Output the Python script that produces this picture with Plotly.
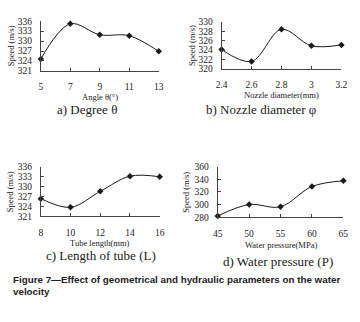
import plotly.graph_objects as go

# Data
angle_x = [5, 7, 9, 11, 13]
angle_y = [324.6, 335.2, 331.9, 331.6, 326.9]

nozzle_x = [2.4, 2.6, 2.8, 3.0, 3.2]
nozzle_y = [324.1, 321.6, 328.4, 324.9, 325.1]

tube_x = [8, 10, 12, 14, 16]
tube_y = [326.3, 323.7, 328.5, 333.1, 332.9]

press_x = [45, 50, 55, 60, 65]
press_y = [282, 300, 296.5, 328.5, 337.5]

W, H = 360, 322
def fx(px): return px / W
def fy(py): return 1 - py / H

SERIF = "Liberation Serif"
INK = "#1a1a1a"

panels = [
    dict(x=angle_x, y=angle_y, xd=(36, 158), yd=(16.7, 68), xr=[5, 13], yr=[321, 336],
         xt=angle_x, yt=[321, 324, 327, 330, 333, 336],
         xticktext=["5", "7", "9", "11", "13"],
         title="Angle θ(°)", title_y=95, cap="a) Degree θ", cap_x=84, cap_y=108, ylab_x=5.5),
    dict(x=nozzle_x, y=nozzle_y, xd=(223, 347), yd=(17.3, 66), xr=[2.4, 3.2], yr=[320, 330],
         xt=nozzle_x, yt=[320, 322, 324, 326, 328, 330],
         xticktext=["2.4", "2.6", "2.8", "3", "3.2"],
         title="Nozzle diameter(mm)", title_y=93, cap="b) Nozzle diameter φ", cap_x=264, cap_y=108, ylab_x=193),
    dict(x=tube_x, y=tube_y, xd=(36, 159), yd=(166.7, 218), xr=[8, 16], yr=[321, 336],
         xt=tube_x, yt=[321, 324, 327, 330, 333, 336],
         xticktext=["8", "10", "12", "14", "16"],
         title="Tube length(mm)", title_y=246, cap="c) Length of tube (L)", cap_x=98, cap_y=259, ylab_x=5),
    dict(x=press_x, y=press_y, xd=(219, 349), yd=(166.7, 219), xr=[45, 65], yr=[280, 360],
         xt=press_x, yt=[280, 300, 320, 340, 360],
         xticktext=["45", "50", "55", "60", "65"],
         title="Water pressure(MPa)", title_y=248, cap="d) Water pressure (P)", cap_x=281, cap_y=265, ylab_x=186),
]

fig = go.Figure()
annotations = []
layout = {}
for i, p in enumerate(panels, start=1):
    xa = "x" if i == 1 else f"x{i}"
    ya = "y" if i == 1 else f"y{i}"
    fig.add_trace(go.Scatter(
        x=p["x"], y=p["y"], xaxis=xa, yaxis=ya, mode="lines+markers",
        line=dict(color=INK, width=1, shape="spline", smoothing=1),
        marker=dict(symbol="diamond", size=5, color=INK),
        showlegend=False, cliponaxis=False,
    ))
    axis_common = dict(showgrid=False, zeroline=False, showline=True, linecolor="#444",
                       linewidth=1, ticks="inside", ticklen=3, tickcolor="#444",
                       tickfont=dict(family=SERIF, size=9.5, color=INK))
    layout[f"xaxis{'' if i == 1 else i}"] = dict(
        domain=[fx(p["xd"][0]), fx(p["xd"][1])], range=p["xr"], anchor=ya,
        tickmode="array", tickvals=p["xt"], ticktext=p["xticktext"],
        ticklabelstandoff=7, **axis_common)
    layout[f"yaxis{'' if i == 1 else i}"] = dict(
        domain=[fy(p["yd"][1]), fy(p["yd"][0])], range=p["yr"], anchor=xa,
        tickmode="array", tickvals=p["yt"], ticklabelstandoff=6, **axis_common)
    xc = (p["xd"][0] + p["xd"][1]) / 2
    annotations.append(dict(text=p["title"], x=fx(xc), y=fy(p["title_y"]), xref="paper", yref="paper",
                            showarrow=False, xanchor="center", yanchor="middle",
                            font=dict(family=SERIF, size=8.5, color=INK)))
    annotations.append(dict(text=p["cap"], x=fx(p["cap_x"]), y=fy(p["cap_y"]), xref="paper", yref="paper",
                            showarrow=False, xanchor="center", yanchor="middle",
                            font=dict(family=SERIF, size=13, color=INK)))
    yc = (p["yd"][0] + p["yd"][1]) / 2
    annotations.append(dict(text="Speed (m/s)", x=fx(p["ylab_x"]), y=fy(yc), xref="paper", yref="paper",
                            showarrow=False, textangle=-90, xanchor="center", yanchor="middle",
                            font=dict(family=SERIF, size=8.5, color=INK)))

annotations.append(dict(text="<b>Figure 7—Effect of geometrical and hydraulic parameters on the water</b>",
                        x=fx(5), y=fy(283), xref="paper", yref="paper", showarrow=False,
                        xanchor="left", yanchor="middle",
                        font=dict(family="Liberation Sans", size=9.8, color="#222")))
annotations.append(dict(text="<b>velocity</b>",
                        x=fx(5), y=fy(296), xref="paper", yref="paper", showarrow=False,
                        xanchor="left", yanchor="middle",
                        font=dict(family="Liberation Sans", size=9.8, color="#222")))

fig.update_layout(width=W, height=H, margin=dict(l=0, r=0, t=0, b=0),
                  paper_bgcolor="white", plot_bgcolor="white",
                  annotations=annotations, **layout)
fig.write_html("out.html", config={"displayModeBar": False},
               post_script="document.body.style.margin='0';document.body.style.overflow='hidden';")
